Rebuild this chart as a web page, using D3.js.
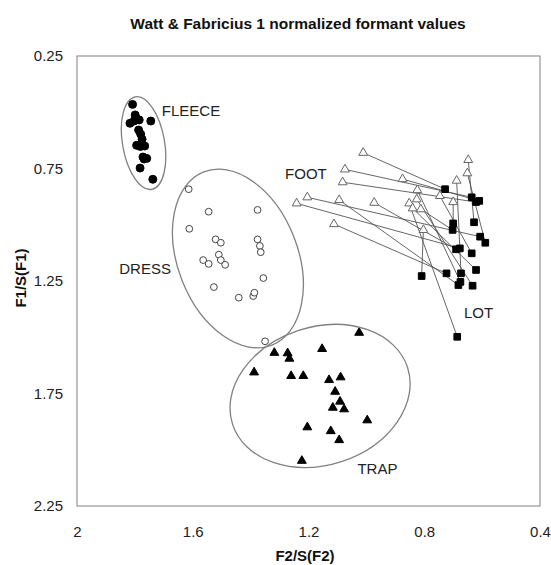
<!DOCTYPE html>
<html>
<head>
  <script src="https://d3js.org/d3.v7.min.js"></script>
  <style>
    body { margin: 0; background: #fff; }
    svg { font-family: "Liberation Sans", Arial, sans-serif; }
  </style>
</head>
<body>
<script>
  // vowel tokens, [F2/S(F2), F1/S(F1)]
  var fleece = [[1.808,0.465],[1.799,0.512],[1.785,0.534],[1.817,0.549],[1.745,0.539],[1.796,0.526],
    [1.787,0.579],[1.780,0.597],[1.775,0.620],[1.794,0.647],[1.766,0.650],[1.781,0.652],[1.759,0.705],
    [1.768,0.708],[1.772,0.699],[1.782,0.748],[1.738,0.798],[1.803,0.539]];
  var dress = [[1.614,0.842],[1.545,0.942],[1.376,0.934],[1.612,1.018],[1.521,1.065],[1.503,1.080],
    [1.376,1.065],[1.368,1.094],[1.365,1.122],[1.510,1.133],[1.564,1.157],[1.545,1.174],[1.503,1.157],
    [1.488,1.178],[1.356,1.237],[1.527,1.277],[1.441,1.324],[1.391,1.317],[1.387,1.302],[1.350,1.518]];
  var trap = [[1.025,1.480],[1.318,1.569],[1.272,1.571],[1.266,1.595],[1.153,1.552],[1.388,1.656],
    [1.260,1.672],[1.218,1.672],[1.129,1.690],[1.089,1.678],[1.108,1.742],[1.091,1.786],[1.116,1.813],
    [1.077,1.820],[0.997,1.869],[1.204,1.900],[1.123,1.917],[1.094,1.957],[1.223,2.049]];
  // FOOT and LOT are paired by speaker (same index)
  var foot = [[1.011,0.680],[1.074,0.754],[1.082,0.811],[0.875,0.797],[1.204,0.878],[1.241,0.905],
    [1.094,0.890],[0.973,0.902],[1.112,0.997],[0.824,0.846],[0.826,0.887],[0.852,0.905],[0.840,0.927],
    [0.812,0.931],[0.803,1.023],[0.746,0.872],[0.688,0.804],[0.700,0.899],[0.648,0.712],[0.651,0.771]];
  var lot = [[0.728,0.842],[0.636,0.878],[0.621,0.899],[0.610,0.894],[0.607,1.053],[0.677,1.105],
    [0.682,1.268],[0.690,1.109],[0.723,1.216],[0.675,1.254],[0.633,1.271],[0.686,1.498],[0.621,1.201],
    [0.702,1.023],[0.809,1.228],[0.636,1.127],[0.673,1.216],[0.700,0.994],[0.628,0.989],[0.589,1.080]];

  var xTicks = [2, 1.6, 1.2, 0.8, 0.4];
  var yTicks = [0.25, 0.75, 1.25, 1.75, 2.25];

  var vowelLabels = ["FLEECE", "DRESS", "FOOT", "LOT", "TRAP"];
  var labelPos = [[1.707,0.517],[1.854,1.217],[1.281,0.795],[0.663,1.414],[1.031,2.106]];

  // hand-drawn ellipses round the clusters: centre in data units
  var ellipseCentres = [[1.770,0.637],[1.444,1.150],[1.160,1.761]];
  var ellipseShape = [{rx: 21, ry: 47, rot: -10}, {rx: 60, ry: 93, rot: -21.5}, {rx: 92, ry: 69, rot: -18}];

  var width = 551, height = 565;
  var plotL = 77, plotR = 540, plotT = 56, plotB = 506;

  var svg = d3.select('body').append('svg')
    .attr('width', width)
    .attr('height', height);

  var x = d3.scaleLinear().domain([2, 0.4]).range([plotL, plotR]);
  var y = d3.scaleLinear().domain([0.25, 2.25]).range([plotT, plotB]);

  // plot frame
  svg.append('rect')
    .attr('x', plotL).attr('y', plotT)
    .attr('width', plotR - plotL).attr('height', plotB - plotT)
    .attr('fill', 'none').attr('stroke', '#808080').attr('stroke-width', 1);

  var xAxis = svg.append('g')
    .attr('transform', 'translate(0,' + plotB + ')')
    .call(d3.axisBottom(x).tickValues(xTicks).tickSize(0).tickPadding(20).tickFormat(d3.format('')));
  var yAxis = svg.append('g')
    .attr('transform', 'translate(' + plotL + ',0)')
    .call(d3.axisLeft(y).tickValues(yTicks).tickSize(0).tickPadding(14).tickFormat(d3.format('.2f')));
  [xAxis, yAxis].forEach(function(a) {
    a.select('.domain').remove();
    a.selectAll('text').attr('font-size', 15).attr('fill', '#222')
      .attr('font-family', '"Liberation Sans", Arial, sans-serif');
  });

  svg.append('text')
    .attr('x', 298).attr('y', 29)
    .attr('text-anchor', 'middle')
    .attr('font-size', 15.5).attr('font-weight', 'bold').attr('fill', '#111')
    .text('Watt & Fabricius 1 normalized formant values');

  svg.append('text')
    .attr('x', 305).attr('y', 561)
    .attr('text-anchor', 'middle')
    .attr('font-size', 15).attr('font-weight', 'bold').attr('fill', '#111')
    .text('F2/S(F2)');

  svg.append('text')
    .attr('transform', 'translate(26,278) rotate(-90)')
    .attr('text-anchor', 'middle')
    .attr('font-size', 15).attr('font-weight', 'bold').attr('fill', '#111')
    .text('F1/S(F1)');

  // FOOT -> LOT connecting lines
  svg.append('g').selectAll('line')
    .data(foot)
    .enter().append('line')
    .attr('x1', function(d) { return x(d[0]); })
    .attr('y1', function(d) { return y(d[1]); })
    .attr('x2', function(d, i) { return x(lot[i][0]); })
    .attr('y2', function(d, i) { return y(lot[i][1]); })
    .attr('stroke', '#555').attr('stroke-width', 0.9);

  function drawPoints(data, sym, size, fill, stroke) {
    svg.append('g').selectAll('path')
      .data(data)
      .enter().append('path')
      .attr('transform', function(d) { return 'translate(' + x(d[0]) + ',' + y(d[1]) + ')'; })
      .attr('d', d3.symbol().type(sym).size(size))
      .attr('fill', fill)
      .attr('stroke', stroke)
      .attr('stroke-width', 1);
  }

  drawPoints(fleece, d3.symbolCircle, 50, '#000', '#000');
  drawPoints(dress, d3.symbolCircle, 36, '#fff', '#444');
  drawPoints(trap, d3.symbolTriangle, 34, '#000', '#000');
  drawPoints(foot, d3.symbolTriangle, 34, '#fff', '#666');
  drawPoints(lot, d3.symbolSquare, 44, '#000', '#000');

  svg.append('g').selectAll('ellipse')
    .data(ellipseCentres)
    .enter().append('ellipse')
    .attr('transform', function(d, i) {
      return 'translate(' + x(d[0]) + ',' + y(d[1]) + ') rotate(' + ellipseShape[i].rot + ')';
    })
    .attr('rx', function(d, i) { return ellipseShape[i].rx; })
    .attr('ry', function(d, i) { return ellipseShape[i].ry; })
    .attr('fill', 'none').attr('stroke', '#808080').attr('stroke-width', 1.3);

  svg.append('g').selectAll('text')
    .data(vowelLabels)
    .enter().append('text')
    .attr('x', function(d, i) { return x(labelPos[i][0]); })
    .attr('y', function(d, i) { return y(labelPos[i][1]); })
    .attr('font-size', 15).attr('fill', '#222')
    .text(function(d) { return d; });
</script>
</body>
</html>
